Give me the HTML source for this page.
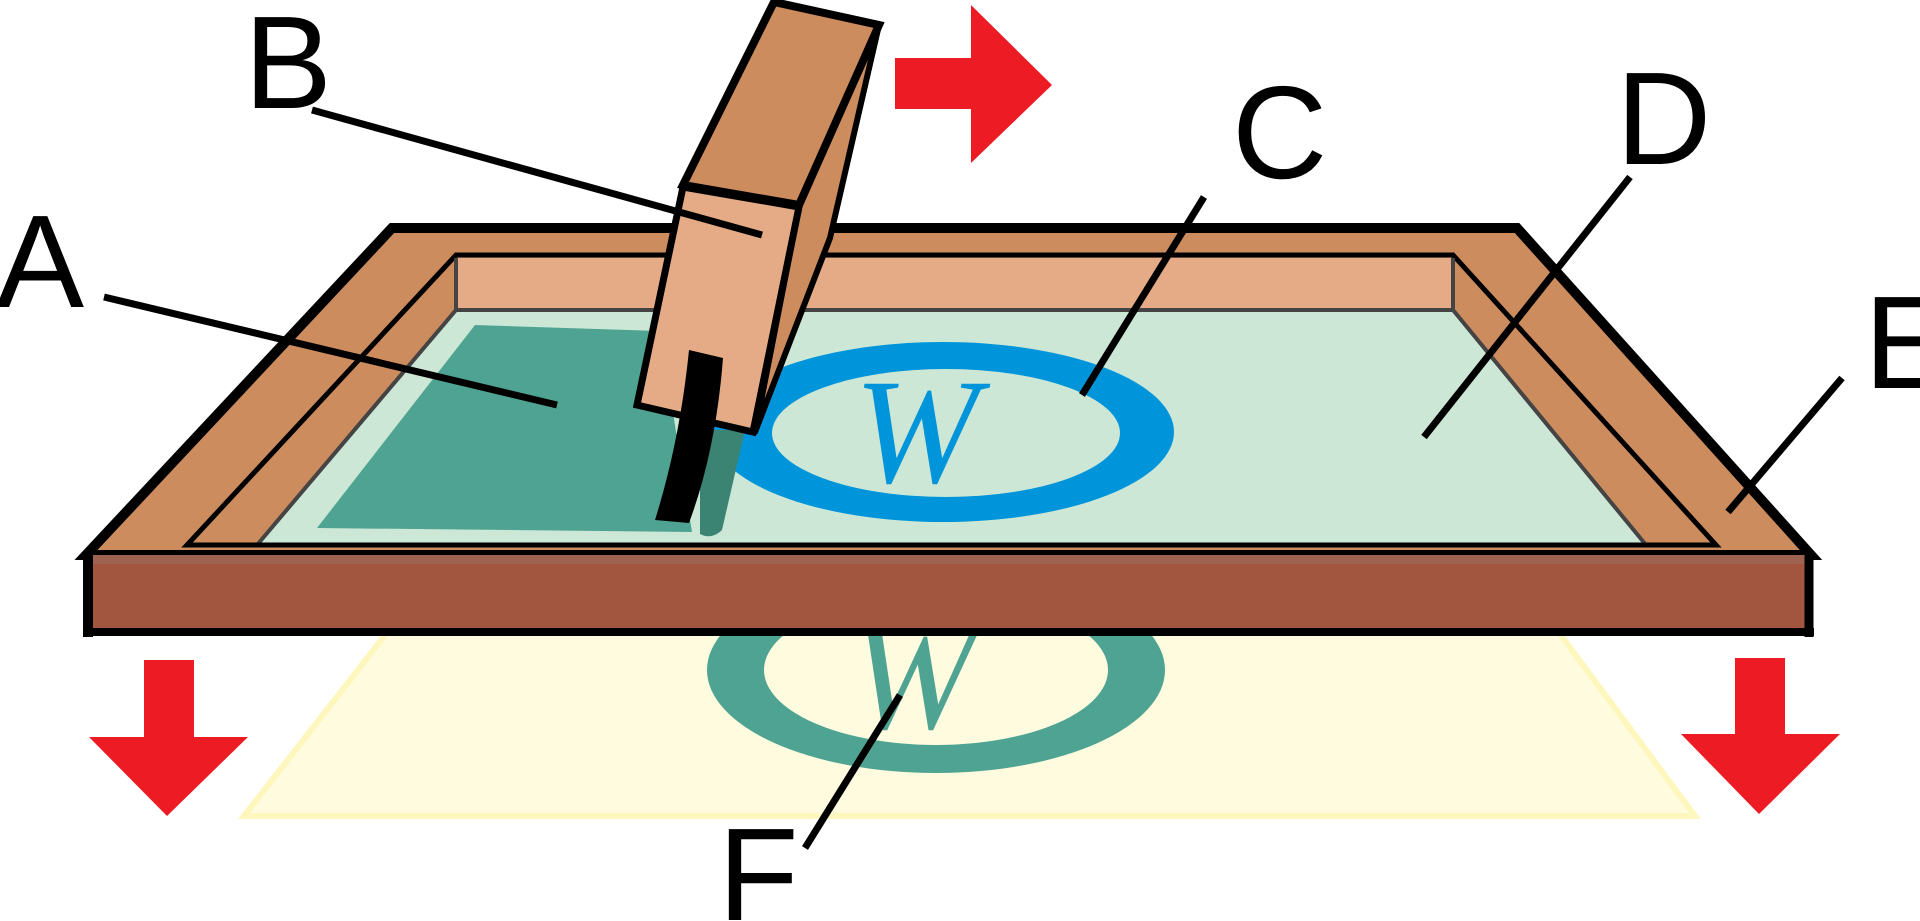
<!DOCTYPE html>
<html><head><meta charset="utf-8"><style>
html,body{margin:0;padding:0;background:#fff;}
svg{display:block;}
</style></head><body>
<svg width="1920" height="921" viewBox="0 0 1920 921" xmlns="http://www.w3.org/2000/svg">
<!-- yellow printed paper -->
<polygon points="389,630 1557,630 1695,816 244,816" fill="#fefbdf" stroke="#fdf7bd" stroke-width="6"/>
<!-- printed ring -->
<ellipse cx="936" cy="670" rx="229" ry="103" fill="#4fa392"/>
<ellipse cx="936" cy="670" rx="172" ry="75" fill="#fefbdf"/>
<text x="850" y="728" style="font-family:'Liberation Serif',serif;font-style:italic;font-size:150px" fill="#4fa392">W</text>

<!-- frame outer top -->
<polygon points="392,228 1517,228 1811,555 86,555" fill="#cd8c5e" stroke="#000" stroke-width="10" stroke-linejoin="miter"/>
<!-- inner -->
<polygon points="456,255 1453,255 1716,545 187,545" fill="#cd8c5e" stroke="#000" stroke-width="5"/>
<rect x="458" y="258" width="993" height="52" fill="#e5ab87"/>
<polygon points="456,310 1453,310 1646,545 257,545" fill="#cde7d6"/>
<polyline points="257,545 456,310 1453,310 1646,545" fill="none" stroke="#444" stroke-width="4"/>
<line x1="456" y1="258" x2="456" y2="310" stroke="#444" stroke-width="4"/>
<line x1="1453" y1="258" x2="1453" y2="310" stroke="#444" stroke-width="4"/>
<line x1="187" y1="545" x2="1716" y2="545" stroke="#000" stroke-width="5"/>

<!-- ink -->
<polygon points="475,325 660,331 692,532 317,528" fill="#4fa392"/>
<!-- blue ring -->
<ellipse cx="943" cy="432" rx="231" ry="90" fill="#0095db"/>
<ellipse cx="946" cy="433" rx="174" ry="64" fill="#cde7d6"/>
<text x="854" y="482" style="font-family:'Liberation Serif',serif;font-style:italic;font-size:150px" fill="#0095db">W</text>

<!-- frame front -->
<rect x="88" y="555" width="1722" height="76" fill="#a2553f"/>
<rect x="88" y="555" width="1722" height="9" fill="#9e6350"/>
<line x1="88" y1="552" x2="88" y2="637" stroke="#000" stroke-width="10"/>
<line x1="1809" y1="552" x2="1809" y2="637" stroke="#000" stroke-width="9"/>
<line x1="83" y1="632" x2="1814" y2="632" stroke="#000" stroke-width="8"/>

<!-- squeegee ink strip -->
<path d="M700,430 L745,430 L722,530 Q712,540 700,534 Z" fill="#3b8474"/>
<!-- handle right face -->
<polygon points="879,25 830,238 755,432 799,207" fill="#cd8c5e" stroke="#000" stroke-width="6" stroke-linejoin="round"/>
<!-- handle top part -->
<polygon points="774,2 879,25 799,205 683,185" fill="#cd8c5e" stroke="#000" stroke-width="8" stroke-linejoin="miter"/>
<!-- handle front face -->
<polygon points="683,187 799,207 753,432 637,405" fill="#e5ab87" stroke="#000" stroke-width="7"/>
<!-- blade -->
<path d="M689,350 L723,358 Q716,450 689,523 L655,520 Q680,440 689,350 Z" fill="#000"/>

<!-- leader lines -->
<g stroke="#000" stroke-width="7" fill="none">
<line x1="312" y1="110" x2="762" y2="235"/>
<line x1="104" y1="297" x2="557" y2="405"/>
<line x1="1204" y1="197" x2="1082" y2="395"/>
<line x1="1630" y1="177" x2="1424" y2="437"/>
<line x1="1842" y1="378" x2="1728" y2="512"/>
<line x1="900" y1="695" x2="805" y2="848"/>
</g>

<!-- labels -->
<g style="font-family:'Liberation Sans',sans-serif;font-size:132px" fill="#000">
<text x="244" y="108">B</text>
<text x="-4" y="307">A</text>
<text x="1232" y="178">C</text>
<text x="1616" y="164">D</text>
<text x="1864" y="388">E</text>
<text x="718" y="920">F</text>
</g>

<!-- red arrows -->
<g fill="#ed1c24">
<polygon points="895,58 971,58 971,5 1052,85 971,163 971,109 895,109"/>
<polygon points="144,660 194,660 194,737 248,737 167,816 89,737 144,737"/>
<polygon points="1735,658 1785,658 1785,734 1840,734 1759,814 1681,734 1735,734"/>
</g>
</svg>
</body></html>
